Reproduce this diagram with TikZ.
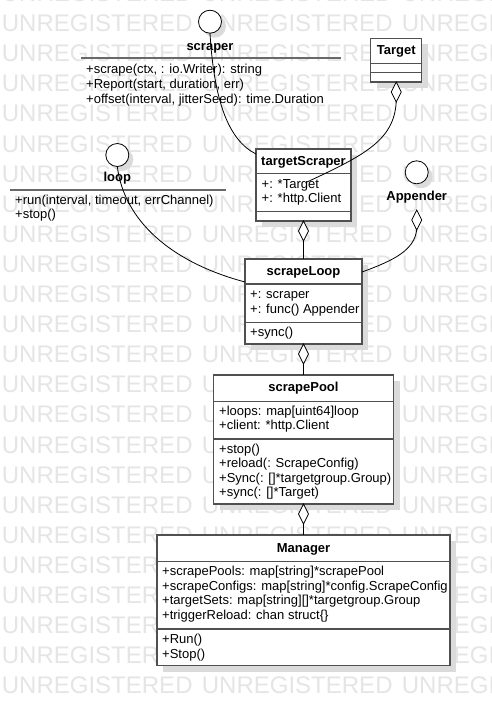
\documentclass[tikz,border=0pt]{standalone}
\usepackage{fontspec}
\setmainfont{Liberation Sans}
\usetikzlibrary{shapes.geometric}
\definecolor{wmc}{RGB}{229,229,229}
\definecolor{shc}{RGB}{219,219,219}
\definecolor{boxc}{RGB}{80,80,80}
\definecolor{ifc}{RGB}{105,105,105}
\newcommand{\fs}{\fontsize{13}{15}\selectfont}
\newcommand{\umlbox}[5]{%
  \fill[shc] (#2+6,#3+6) rectangle (#4+6,#5+6);
  \node[cls, anchor=north west, minimum width={#4-#2}, minimum height={#5-#3}] (#1) at (#2,#3) {};
}
\tikzset{
  cls/.style={draw=boxc, line width=1.3pt, fill=white, inner sep=0pt, outer sep=0pt, rectangle},
  sepline/.style={draw=boxc, line width=1.3pt},
  ifline/.style={draw=ifc, line width=1.7pt},
  txt/.style={anchor=west, inner sep=0pt, text height=9.5pt, text depth=2.5pt, font=\fs},
  ttl/.style={inner sep=0pt, text height=9.5pt, text depth=2.5pt, font=\fs\bfseries},
  agg/.style={diamond, draw=black, fill=white, line width=0.8pt, inner sep=0pt, outer sep=0pt, minimum width=10pt, minimum height=20pt},
  iface/.style={circle, draw=black, fill=white, line width=0.8pt, minimum size=23pt, inner sep=0pt, outer sep=0pt},
  conn/.style={draw=black, line width=0.8pt},
  wm/.style={anchor=base west, inner sep=0pt, text=wmc, font=\fontsize{24}{28}\selectfont},
}
\begin{document}
\begin{tikzpicture}[x=1pt, y=-1pt]
\useasboundingbox (0,0) rectangle (491,706);
\fill[white] (0,0) rectangle (491,706);
\begin{scope}
\clip (0,0) rectangle (491,706);
\foreach \r in {-1,...,22} {
  \foreach \c in {0,1,2} {
    \node[wm] (wm-\r-\c) at (\c*200+1.7, 23+30.1*\r+8.6) {UNREGISTERED};
  }
}
\end{scope}

% ---------- interface: scraper
\fill[shc] (214.5,26.2) circle (11.5);
\node[iface] (scraperI) at (210,21.7) {};
\node[ttl] (scraperL) at (210,46.7) {scraper};
\draw[ifline] (81,58.3) -- (341,58.3);
\node[txt] (scr1) at (86,70.5) {+scrape(ctx, : io.Writer): string};
\node[txt] (scr2) at (86,85) {+Report(start, duration, err)};
\node[txt] (scr3) at (86,99.5) {+offset(interval, jitterSeed): time.Duration};

% ---------- interface: loop
\fill[shc] (121.8,159.5) circle (11.5);
\node[iface] (loopI) at (117.3,155) {};
\node[ttl] (loopL) at (117.3,178.3) {loop};
\draw[ifline] (10,190) -- (226,190);
\node[txt] (lp1) at (15,201) {+run(interval, timeout, errChannel)};
\node[txt] (lp2) at (15,215) {+stop()};

% ---------- interface: Appender
\fill[shc] (421.2,176.8) circle (11.5);
\node[iface] (appI) at (416.7,172.3) {};
\node[ttl] (appL) at (416.7,196.7) {Appender};
\node[agg, anchor=north] (dA) at (416.7,210) {};

% ---------- Target
\umlbox{target}{370.7}{38.3}{421.7}{82}
\node[ttl] (targetT) at (396.2,50.7) {Target};
\draw[sepline] (370.7,63.3) -- (421.7,63.3);
\draw[sepline] (370.7,72.7) -- (421.7,72.7);
\node[agg, anchor=north] (dT) at (target.south) {};

% ---------- targetScraper
\umlbox{ts}{256}{149}{351}{221}
\node[ttl] (tsT) at (303.5,162) {targetScraper};
\draw[sepline] (256,173.3) -- (351,173.3);
\node[txt] (ts1) at (261.5,184.5) {+: *Target};
\node[txt] (ts2) at (261.5,199) {+: *http.Client};
\draw[sepline] (256,211.7) -- (351,211.7);
\node[agg, anchor=north] (dTS) at (ts.south) {};

% ---------- scrapeLoop
\umlbox{sl}{245}{259}{362}{344}
\node[ttl] (slT) at (303.5,272.3) {scrapeLoop};
\draw[sepline] (245,284) -- (362,284);
\node[txt] (sl1) at (250,295) {+: scraper};
\node[txt] (sl2) at (250,309.5) {+: func() Appender};
\draw[sepline] (245,322.3) -- (362,322.3);
\node[txt] (sl3) at (250,333.3) {+sync()};
\node[agg, anchor=north] (dSL) at (sl.south) {};

% ---------- scrapePool
\umlbox{sp}{213.5}{375}{393.5}{504}
\node[ttl] (spT) at (303.5,388.3) {scrapePool};
\draw[sepline] (213.5,401.7) -- (393.5,401.7);
\node[txt] (sp1) at (219,411.7) {+loops: map[uint64]loop};
\node[txt] (sp2) at (219,426) {+client: *http.Client};
\draw[sepline] (213.5,439) -- (393.5,439);
\node[txt] (sp3) at (219,449.5) {+stop()};
\node[txt] (sp4) at (219,464) {+reload(: ScrapeConfig)};
\node[txt] (sp5) at (219,478.5) {+Sync(: []*targetgroup.Group)};
\node[txt] (sp6) at (219,493) {+sync(: []*Target)};
\node[agg, anchor=north] (dSP) at (sp.south) {};

% ---------- Manager
\umlbox{mg}{157}{535}{450}{665.7}
\node[ttl] (mgT) at (303.5,549.3) {Manager};
\draw[sepline] (157,561.7) -- (450,561.7);
\node[txt] (mg1) at (162,572.3) {+scrapePools: map[string]*scrapePool};
\node[txt] (mg2) at (162,586.8) {+scrapeConfigs: map[string]*config.ScrapeConfig};
\node[txt] (mg3) at (162,601.3) {+targetSets: map[string][]*targetgroup.Group};
\node[txt] (mg4) at (162,615.8) {+triggerReload: chan struct\{\}};
\draw[sepline] (157,629) -- (450,629);
\node[txt] (mg5) at (162,640) {+Run()};
\node[txt] (mg6) at (162,654.5) {+Stop()};

% ---------- connectors
\coordinate (tsEnd) at (307,182);
\draw[conn] (scraperI.south) .. controls (214,100) and (228,140) .. ([yshift=-5pt]ts.north west);
\draw[conn] (dT.south) .. controls (394,140) and (365,155) .. (tsEnd);
\draw[conn] (loopI.south) .. controls (124,220) and (170,262) .. ([yshift=-23pt]sl.north west);
\draw[conn] (dA.south) .. controls (414,250) and (395,260) .. ([yshift=-13pt]sl.north east);
\draw[conn] (dTS.south) -- (sl.north);
\draw[conn] (dSL.south) -- (sp.north);
\draw[conn] (dSP.south) -- (mg.north);
\end{tikzpicture}
\end{document}
